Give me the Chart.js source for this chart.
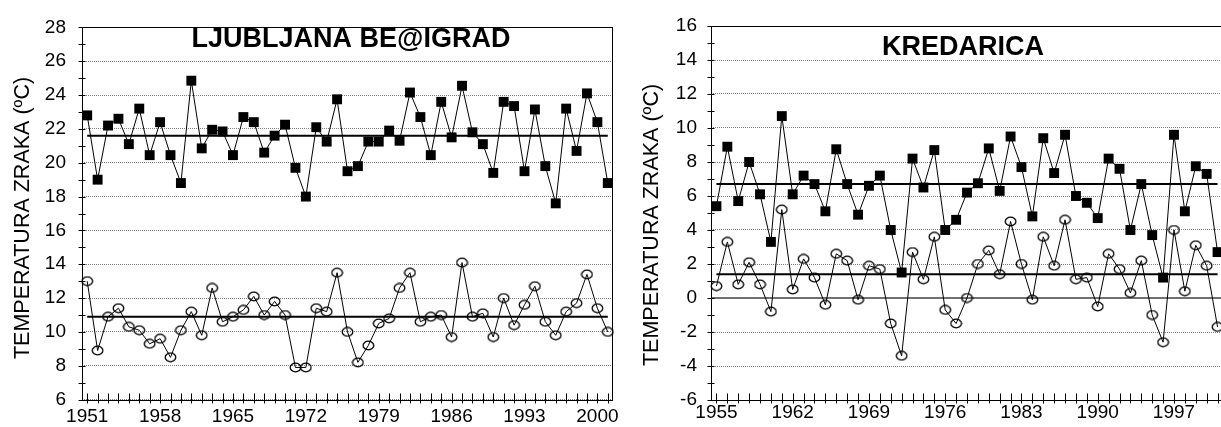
<!DOCTYPE html>
<html>
<head>
<meta charset="utf-8">
<script src="https://cdn.jsdelivr.net/npm/chart.js@4.4.1/dist/chart.umd.min.js"></script>
<style>
  html, body { margin: 0; padding: 0; background: #fff; overflow: hidden; }
  .box { position: absolute; top: 0; height: 427px; }
  #left { left: 0; width: 630px; }
  #right { left: 630px; width: 600px; }
</style>
</head>
<body>
<div class="box" id="left"><canvas id="ljChart"></canvas></div>
<div class="box" id="right"><canvas id="krChart"></canvas></div>
<script>
function yearRange(a, b) {
  const out = [];
  for (let y = a; y <= b; y++) out.push(String(y));
  return out;
}

// Ljubljana Bezigrad, 1951-2001
const ljYears = yearRange(1951, 2001);
const ljMax = [22.8, 19.0, 22.2, 22.6, 21.1, 23.2, 20.45, 22.4, 20.45, 18.8,
  24.85, 20.85, 21.95, 21.85, 20.45, 22.7, 22.4, 20.6, 21.6, 22.25,
  19.7, 18.0, 22.1, 21.25, 23.75, 19.5, 19.8, 21.25, 21.25, 21.9,
  21.3, 24.15, 22.7, 20.45, 23.6, 21.5, 24.55, 21.8, 21.1, 19.4,
  23.6, 23.35, 19.5, 23.15, 19.8, 17.6, 23.2, 20.7, 24.1, 22.4, 18.8];
const ljMin = [13.0, 8.9, 10.9, 11.4, 10.3, 10.1, 9.3, 9.6, 8.5, 10.1,
  11.2, 9.8, 12.6, 10.6, 10.9, 11.3, 12.1, 11.0, 11.8, 11.0,
  7.9, 7.9, 11.4, 11.2, 13.5, 10.0, 8.2, 9.2, 10.5, 10.8,
  12.6, 13.5, 10.6, 10.9, 11.0, 9.7, 14.1, 10.9, 11.1, 9.7,
  12.0, 10.4, 11.6, 12.7, 10.6, 9.8, 11.2, 11.7, 13.4, 11.4, 10.0];
const ljMaxMean = 21.6;
const ljMinMean = 10.9;

// Kredarica, 1955-2001
const krYears = yearRange(1955, 2001);
const krMax = [5.4, 8.9, 5.7, 8.0, 6.1, 3.3, 10.7, 6.1, 7.2, 6.7,
  5.1, 8.75, 6.7, 4.9, 6.6, 7.2, 4.0, 1.5, 8.2, 6.5,
  8.7, 4.0, 4.6, 6.2, 6.75, 8.8, 6.3, 9.5, 7.7, 4.8,
  9.4, 7.35, 9.6, 6.0, 5.6, 4.7, 8.2, 7.6, 4.0, 6.7,
  3.7, 1.2, 9.6, 5.1, 7.75, 7.3, 2.7];
const krMin = [0.7, 3.3, 0.8, 2.1, 0.8, -0.8, 5.2, 0.5, 2.3, 1.2,
  -0.4, 2.6, 2.2, -0.1, 1.9, 1.7, -1.5, -3.4, 2.7, 1.1,
  3.6, -0.7, -1.5, 0.0, 2.0, 2.8, 1.4, 4.5, 2.0, -0.1,
  3.6, 1.9, 4.6, 1.1, 1.2, -0.5, 2.6, 1.7, 0.3, 2.2,
  -1.0, -2.6, 4.0, 0.4, 3.1, 1.9, -1.7];
const krMaxMean = 6.7;
const krMinMean = 1.4;

const FONT = '"Liberation Sans", Arial, Helvetica, sans-serif';
Chart.defaults.font.family = FONT;
Chart.defaults.color = '#000';

// hollow ellipse marker
function ring() {
  const c = document.createElement('canvas');
  c.width = 13; c.height = 11;
  const g = c.getContext('2d');
  g.strokeStyle = '#000';
  g.lineWidth = 1.3;
  g.beginPath();
  g.ellipse(6.5, 5.5, 5.3, 4.3, 0, 0, Math.PI * 2);
  g.stroke();
  return c;
}
const ringImg = ring();

// frame, minor ticks, titles
const frame = {
  id: 'frame',
  beforeDatasetsDraw(chart, args, o) {
    if (!o.zeroLine) return;
    const { ctx, chartArea: a, scales: { y } } = chart;
    const py = Math.round(y.getPixelForValue(0));
    ctx.save();
    ctx.strokeStyle = '#707070';
    ctx.lineWidth = 2;
    ctx.beginPath();
    ctx.moveTo(a.left, py);
    ctx.lineTo(a.right, py);
    ctx.stroke();
    ctx.restore();
  },
  afterDraw(chart, args, o) {
    const { ctx, chartArea: a, scales: { x, y } } = chart;
    ctx.save();
    ctx.strokeStyle = '#000';
    ctx.lineWidth = 1;
    const l = Math.round(a.left) + 0.5, t = Math.round(a.top) + 0.5;
    const r = Math.round(a.right) - 0.5, b = Math.round(a.bottom) + 0.5;
    ctx.strokeRect(l, t, r - l, b - t);
    ctx.beginPath();
    chart.data.labels.forEach((lab, i) => {
      const px = Math.round(x.getPixelForValue(i)) + 0.5;
      ctx.moveTo(px, b - 7);
      ctx.lineTo(px, b + 3);
    });
    for (let v = y.min; v <= y.max; v++) {
      const py = Math.round(y.getPixelForValue(v)) + 0.5;
      ctx.moveTo(l - 4, py);
      ctx.lineTo(l + 3, py);
    }
    ctx.stroke();

    ctx.fillStyle = '#000';
    ctx.font = 'bold 27px ' + FONT;
    ctx.textAlign = 'center';
    ctx.textBaseline = 'alphabetic';
    ctx.fillText(o.title, o.titleX, o.titleY);

    ctx.font = '21.5px ' + FONT;
    ctx.textBaseline = 'middle';
    ctx.translate(o.axisX, o.axisY);
    ctx.rotate(-Math.PI / 2);
    ctx.fillText('TEMPERATURA ZRAKA (ºC)', 0, 0);
    ctx.restore();
  }
};

function makeChart(id, labels, maxData, minData, maxMean, minMean, yMin, yMax, lay, decor) {
  const first = +labels[0];
  const last = labels[labels.length - 1];
  return new Chart(document.getElementById(id), {
    type: 'line',
    plugins: [frame],
    data: {
      labels: labels,
      datasets: [
        {
          data: [{ x: labels[0], y: maxMean }, { x: last, y: maxMean }],
          borderColor: '#000', borderWidth: 2, pointRadius: 0
        },
        {
          data: [{ x: labels[0], y: minMean }, { x: last, y: minMean }],
          borderColor: '#000', borderWidth: 2, pointRadius: 0
        },
        {
          data: maxData,
          borderColor: '#000', borderWidth: 1,
          pointStyle: 'rect', pointRadius: 7, pointBorderWidth: 0,
          pointBackgroundColor: '#000', clip: false
        },
        {
          data: minData,
          borderColor: '#000', borderWidth: 1,
          pointStyle: ringImg, clip: false
        }
      ]
    },
    options: {
      responsive: true,
      maintainAspectRatio: false,
      animation: false,
      layout: { padding: { top: lay.top, right: lay.right, left: 0, bottom: 0 } },
      plugins: {
        legend: { display: false },
        tooltip: { enabled: false },
        frame: decor
      },
      scales: {
        x: {
          type: 'category',
          offset: true,
          grid: { display: false, drawTicks: false },
          border: { display: false },
          ticks: {
            autoSkip: false, maxRotation: 0, minRotation: 0,
            padding: lay.xPad,
            font: { size: 19 },
            callback: function (v) {
              const yr = +this.getLabelForValue(v);
              return (yr - first) % 7 === 0 ? String(yr) : '';
            }
          },
          afterFit(s) { s.height = lay.xH; }
        },
        y: {
          min: yMin, max: yMax,
          grid: { color: '#808080', lineWidth: 1, drawTicks: false },
          border: { display: false, dash: [1, 1] },
          ticks: { stepSize: 2, padding: lay.yPad, font: { size: 19 } },
          afterFit(s) { s.width = lay.yW; }
        }
      }
    }
  });
}

makeChart('ljChart', ljYears, ljMax, ljMin, ljMaxMean, ljMinMean, 6, 28,
  { top: 23, right: 17, xH: 25, yW: 82, xPad: 6, yPad: 16 },
  { title: 'LJUBLJANA BE@IGRAD', titleX: 351, titleY: 47, axisX: 23, axisY: 218 });

makeChart('krChart', krYears, krMax, krMin, krMaxMean, krMinMean, -6, 16,
  { top: 26, right: 3, xH: 27, yW: 81, xPad: 1, yPad: 14 },
  { title: 'KREDARICA', titleX: 333, titleY: 55, axisX: 22, axisY: 225, zeroLine: true });
</script>
</body>
</html>
